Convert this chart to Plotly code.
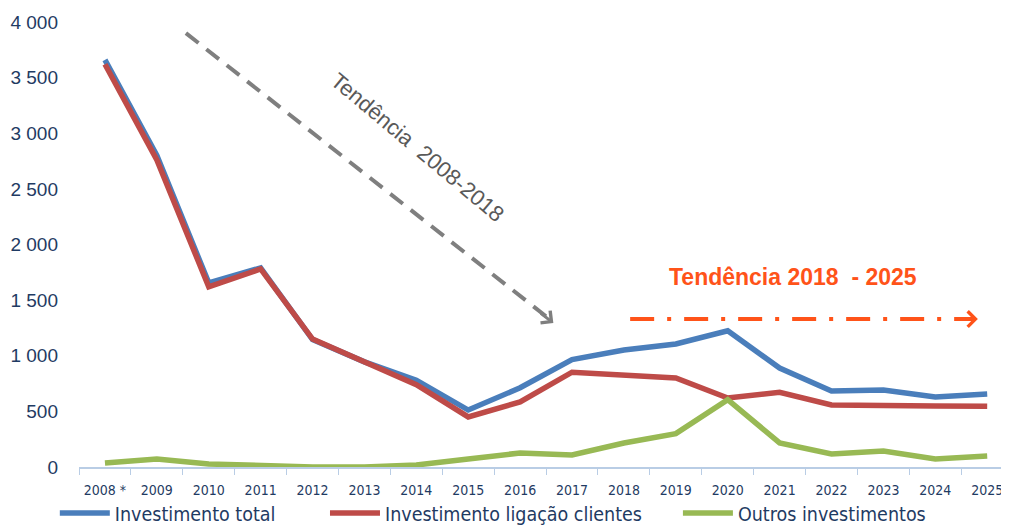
import plotly.graph_objects as go

# Data
years = ["2008 *", "2009", "2010", "2011", "2012", "2013", "2014", "2015", "2016",
         "2017", "2018", "2019", "2020", "2021", "2022", "2023", "2024", "2025"]
invest_total = [3660, 2800, 1655, 1790, 1145, 945, 780, 512, 712,
                965, 1052, 1106, 1225, 890, 683, 692, 630, 656]
invest_ligacao = [3620, 2760, 1620, 1780, 1150, 944, 740, 450, 585,
                  852, 820, 800, 620, 672, 557, 548, 548, 545]
outros_invest = [36, 72, 27, 9, 0, 0, 18, 72, 126,
                 108, 216, 300, 605, 216, 117, 144, 72, 99]

y_ticks = [0, 500, 1000, 1500, 2000, 2500, 3000, 3500, 4000]

NAVY = "#1F3B63"
narrow = "Liberation Sans Narrow, DejaVu Sans Condensed, Arial Narrow, sans-serif"

fig = go.Figure()

# one legend per series so each entry sits where it does in the original
series = [
    ("Investimento total", invest_total, "#4A7EBB", "legend", -0.026),
    ("Investimento ligação clientes", invest_ligacao, "#BE4B48", "legend2", 0.2645),
    ("Outros investimentos", outros_invest, "#98B954", "legend3", 0.644),
]
legend_style = dict(
    orientation="h",
    xanchor="left",
    y=-0.104, yanchor="middle",
    font=dict(family=narrow, size=19.5, color=NAVY),
    itemwidth=50,
    bgcolor="rgba(0,0,0,0)",
)
for name, values, color, leg, lx in series:
    fig.add_trace(
        go.Scatter(
            x=years,
            y=values,
            mode="lines",
            name=name,
            legend=leg,
            line=dict(color=color, width=5.5),
        )
    )
    fig.update_layout({leg: dict(legend_style, x=lx)})

# Trend 2008-2018 (grey dashed arrow)
fig.add_shape(
    type="line", xref="x", yref="y",
    x0=1.56, y0=3900, x1=8.62, y1=1310,
    line=dict(color="#7F7F7F", width=4, dash="16px,10px"),
)
fig.add_annotation(
    x=8.64, y=1294, xref="x", yref="y",
    ax=-14, ay=-11, showarrow=True,
    arrowhead=4, arrowsize=1, arrowwidth=3, arrowcolor="#7F7F7F", text="",
)
fig.add_annotation(
    x=6.03, y=2876, xref="x", yref="y",
    text="Tendência  2008-2018", showarrow=False, textangle=40,
    font=dict(family="Liberation Sans, Arial, sans-serif", size=22, color="#595959"),
)

# Trend 2018 - 2025 (orange dash-dot arrow)
fig.add_shape(
    type="line", xref="x", yref="y",
    x0=10.12, y0=1330, x1=16.72, y1=1330,
    line=dict(color="#FF5319", width=4, dash="24px,13px,4px,13px"),
)
fig.add_annotation(
    x=16.82, y=1330, xref="x", yref="y",
    ax=-14, ay=0, showarrow=True,
    arrowhead=4, arrowsize=1, arrowwidth=3, arrowcolor="#FF5319", text="",
)
fig.add_annotation(
    x=13.25, y=1708, xref="x", yref="y",
    text="<b>Tendência 2018  - 2025</b>", showarrow=False,
    font=dict(family="Liberation Sans, Arial, sans-serif", size=23, color="#FF5319"),
)

fig.update_layout(
    width=1001,
    height=519,
    margin=dict(l=71, r=0, t=14, b=60, autoexpand=False),
    paper_bgcolor="white",
    plot_bgcolor="white",
    separators=", ",
    showlegend=True,
    xaxis=dict(
        type="category",
        range=[-0.5, 17.42],
        showgrid=False,
        showline=True,
        linecolor="#B9CDE5",
        linewidth=1.5,
        ticks="outside",
        tickson="boundaries",
        ticklen=6,
        tickcolor="#B9CDE5",
        ticklabelstandoff=9,
        tickfont=dict(family=narrow, size=14, color=NAVY),
        zeroline=False,
    ),
    yaxis=dict(
        range=[0, 4000],
        tickvals=y_ticks,
        tickformat=",d",
        showgrid=False,
        showline=False,
        zeroline=False,
        ticks="",
        ticklabelstandoff=20,
        tickfont=dict(family="Liberation Sans, Arial, sans-serif", size=19, color=NAVY),
    ),
)

fig.write_html("out.html")
